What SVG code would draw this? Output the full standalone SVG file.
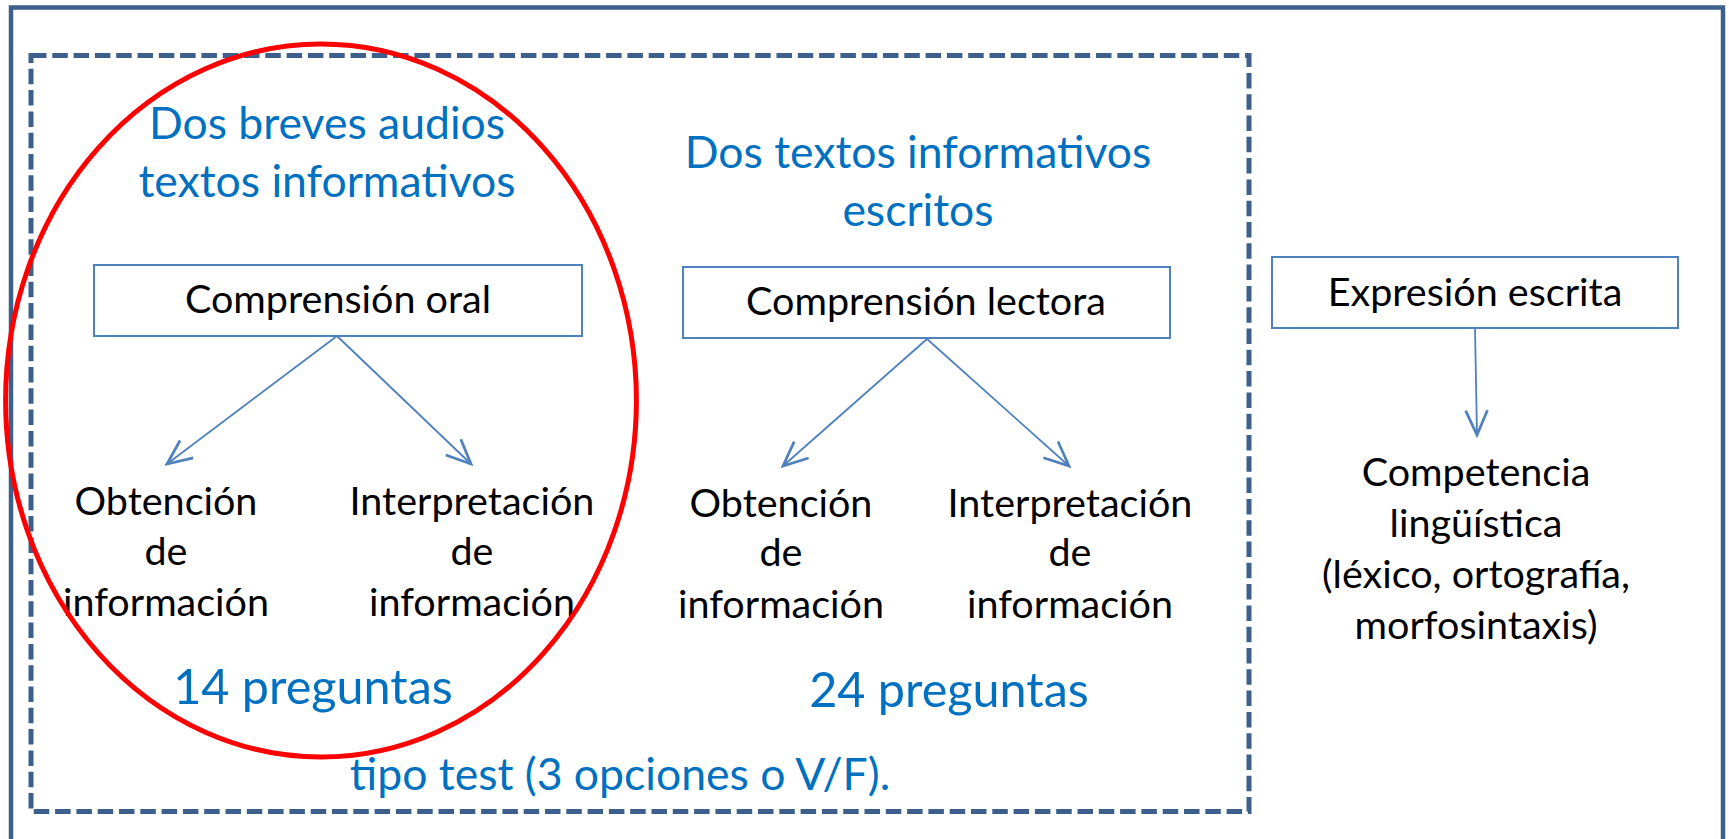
<svg xmlns="http://www.w3.org/2000/svg" width="1729" height="839" viewBox="0 0 1729 839">
<style>
.frame{fill:none;stroke:#3C5F8C;stroke-width:4.5}
.dash{fill:none;stroke:#3C5F8C;stroke-width:5;stroke-dasharray:15.5 5.8}
.box{fill:#fff;stroke:#4F81BD;stroke-width:2}
.conn{fill:none;stroke:#4F81BD;stroke-width:1.8}
.blue{font-family:Lato,"Liberation Sans",sans-serif;fill:#0070C0;text-anchor:middle}
.blk{font-family:Lato,"Liberation Sans",sans-serif;fill:#000;text-anchor:middle}
.h{font-size:44.5px}
.b{font-size:39.5px}
.p{font-size:48.5px}
</style>
<defs>
<marker id="arr" markerUnits="userSpaceOnUse" markerWidth="30" markerHeight="30" viewBox="-20 -10 22 20" refX="0" refY="0" orient="auto">
<path d="M-18,-8 L0,0 L-18,8" fill="none" stroke="#4F81BD" stroke-width="2"/>
</marker>
</defs>
<rect width="1729" height="839" fill="#fff"/>
<rect id="outer" class="frame" x="11" y="7.5" width="1712" height="860"/>
<rect id="group" class="dash" x="31" y="55.5" width="1218" height="756"/>

<g id="oral-header">
<text class="blue h" x="327" y="139">Dos breves audios</text>
<text class="blue h" x="327" y="197">textos informativos</text>
</g>
<g id="lectora-header">
<text class="blue h" x="918" y="168">Dos textos informativos</text>
<text class="blue h" x="918" y="226">escritos</text>
</g>

<g id="oral">
<rect class="box" x="94" y="265" width="488" height="71"/>
<text class="blk b" x="338" y="313">Comprensión oral</text>
</g>
<g id="lectora">
<rect class="box" x="683" y="267" width="487" height="71"/>
<text class="blk b" x="926" y="315">Comprensión lectora</text>
</g>
<g id="expresion">
<rect class="box" x="1272" y="257" width="406" height="71"/>
<text class="blk b" x="1475" y="306">Expresión escrita</text>
</g>

<g id="connectors">
<line class="conn" x1="337" y1="336" x2="167" y2="464" marker-end="url(#arr)"/>
<line class="conn" x1="337" y1="336" x2="471" y2="464" marker-end="url(#arr)"/>
<line class="conn" x1="927" y1="339" x2="783" y2="466" marker-end="url(#arr)"/>
<line class="conn" x1="927" y1="339" x2="1069" y2="466" marker-end="url(#arr)"/>
<line class="conn" x1="1475" y1="328" x2="1477" y2="435" marker-end="url(#arr)"/>
</g>

<g id="oral-obtencion">
<text class="blk b" x="166" y="515">Obtención</text>
<text class="blk b" x="166" y="565">de</text>
<text class="blk b" x="166" y="616">información</text>
</g>
<g id="oral-interpretacion">
<text class="blk b" x="472" y="515">Interpretación</text>
<text class="blk b" x="472" y="565">de</text>
<text class="blk b" x="472" y="616">información</text>
</g>
<g id="lectora-obtencion">
<text class="blk b" x="781" y="517">Obtención</text>
<text class="blk b" x="781" y="566">de</text>
<text class="blk b" x="781" y="618">información</text>
</g>
<g id="lectora-interpretacion">
<text class="blk b" x="1070" y="517">Interpretación</text>
<text class="blk b" x="1070" y="566">de</text>
<text class="blk b" x="1070" y="618">información</text>
</g>
<g id="competencia">
<text class="blk b" x="1476" y="486">Competencia</text>
<text class="blk b" x="1476" y="537">lingüística</text>
<text class="blk b" x="1476" y="588">(léxico, ortografía,</text>
<text class="blk b" x="1476" y="639">morfosintaxis)</text>
</g>

<g id="counts">
<text class="blue p" x="313" y="704">14 preguntas</text>
<text class="blue p" x="949" y="707">24 preguntas</text>
<text class="blue h" x="620" y="790">tipo test (3 opciones o V/F).</text>
</g>

<ellipse id="highlight" cx="321" cy="400.5" rx="315.4" ry="356.5" fill="none" stroke="#FF0000" stroke-width="5"/>
</svg>
